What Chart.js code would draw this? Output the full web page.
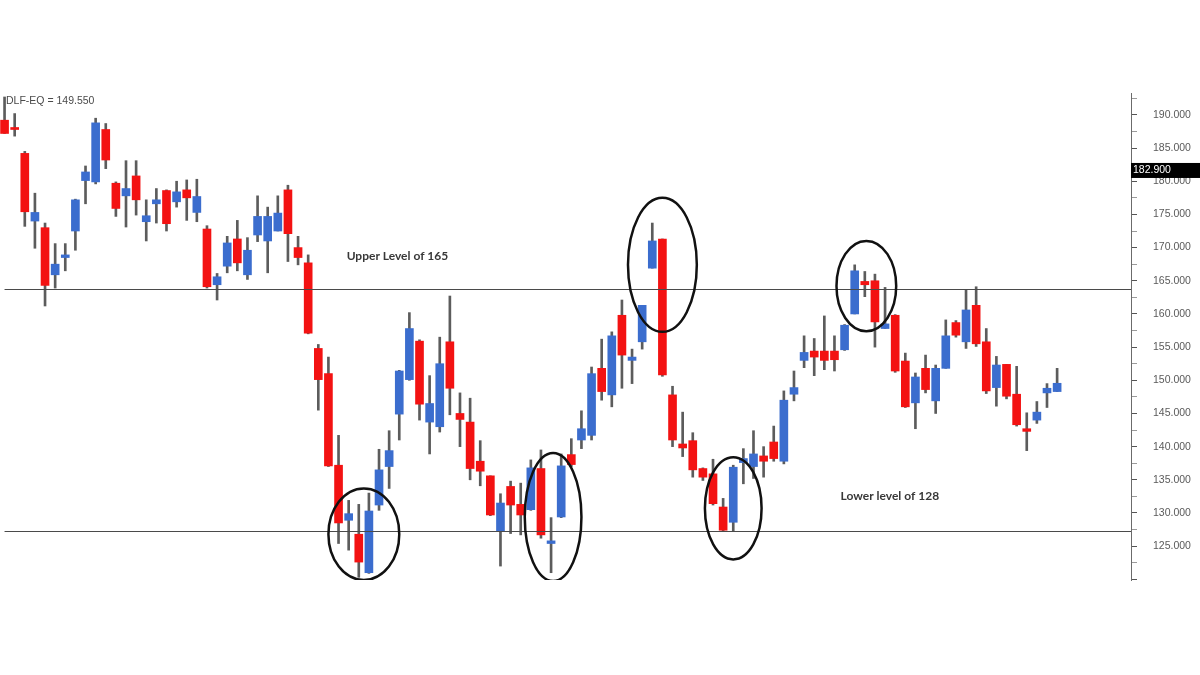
<!DOCTYPE html>
<html lang="en">
  <head>
    <meta charset="UTF-8" />
    <meta name="viewport" content="width=device-width, initial-scale=1.0" />
    <title>DLF-EQ Support and Resistance</title>
    <script src="https://cdn.jsdelivr.net/npm/chart.js"></script>
    <style>
      html, body { margin: 0; padding: 0; background: #ffffff; }
      #wrap { width: 1200px; height: 675px; position: relative; }
    </style>
  </head>
  <body>
    <div id="wrap">
      <canvas id="candles"></canvas>
    </div>

    <script>
      // Daily candles (one entry per candle, left to right)
      const openPrices = [
        189.2, 188.1, 184.2, 174.0, 173.0, 165.9, 168.5, 172.5, 180.1, 179.9,
        187.8, 179.7, 177.8, 180.8, 173.9, 176.6, 178.6, 176.9, 178.7, 175.3,
        172.8, 164.4, 167.2, 171.3, 165.9, 171.9, 171.0, 172.5, 178.7, 170.0,
        167.7, 154.8, 151.0, 137.2, 128.9, 126.8, 121.0, 131.2, 137.0, 144.9,
        150.1, 155.9, 143.7, 143.0, 155.8, 145.0, 143.7, 137.8, 135.6, 127.2,
        134.0, 131.3, 130.5, 136.7, 125.4, 129.4, 138.8, 141.0, 141.7, 151.8,
        147.8, 159.8, 153.0, 155.8, 166.9, 171.3, 147.8, 140.4, 140.9, 136.7,
        135.9, 130.9, 128.6, 137.6, 137.0, 138.6, 140.7, 137.8, 147.9, 153.0,
        154.4, 154.4, 154.4, 154.6, 160.0, 164.9, 165.0, 157.8, 159.8, 152.9,
        146.6, 151.8, 146.9, 151.8, 158.7, 155.8, 161.3, 155.8, 148.9, 152.4,
        147.9, 142.7, 144.0, 148.1, 148.3,
      ];
      const highPrices = [
        192.7, 190.2, 184.5, 178.2, 173.7, 170.6, 170.6, 177.3, 182.3, 189.5,
        188.7, 179.9, 183.1, 183.1, 177.2, 178.9, 178.7, 180.0, 180.2, 180.3,
        173.3, 166.1, 171.7, 174.1, 171.5, 177.8, 176.1, 177.8, 179.4, 171.7,
        168.9, 155.4, 153.5, 141.7, 131.9, 131.3, 133.0, 139.6, 142.4, 151.5,
        160.2, 156.1, 150.7, 156.5, 162.7, 148.1, 147.3, 140.9, 135.6, 132.9,
        134.8, 134.5, 138.0, 139.5, 129.3, 138.9, 141.2, 145.4, 152.0, 156.2,
        157.3, 162.1, 154.7, 161.3, 173.7, 171.3, 149.1, 145.2, 142.1, 136.8,
        138.1, 132.2, 137.2, 139.7, 142.4, 140.0, 143.1, 148.4, 151.4, 156.7,
        156.3, 159.7, 156.7, 158.4, 167.4, 166.4, 166.0, 164.0, 159.9, 154.1,
        151.1, 153.8, 152.3, 159.1, 159.0, 163.7, 164.1, 157.8, 153.6, 152.4,
        152.1, 145.1, 146.8, 149.5, 151.8,
      ];
      const lowPrices = [
        187.2, 186.8, 173.2, 169.9, 161.2, 163.9, 166.5, 169.6, 176.6, 179.6,
        181.9, 174.7, 173.1, 174.9, 171.0, 173.7, 172.5, 176.1, 174.1, 173.9,
        163.9, 162.1, 166.2, 166.5, 165.2, 170.9, 166.2, 172.5, 167.9, 167.4,
        157.0, 145.5, 137.0, 125.4, 124.4, 120.3, 120.9, 130.4, 133.7, 141.0,
        150.0, 144.0, 138.9, 142.2, 144.8, 140.0, 135.0, 134.1, 129.6, 122.0,
        126.9, 126.7, 130.4, 126.2, 121.0, 129.3, 137.0, 139.7, 141.0, 147.0,
        146.0, 148.8, 149.5, 154.7, 166.9, 150.6, 140.0, 138.5, 135.4, 134.9,
        131.2, 127.3, 127.2, 134.4, 135.2, 135.4, 137.8, 137.4, 146.9, 151.9,
        150.7, 151.6, 151.4, 154.5, 160.0, 162.6, 155.0, 157.8, 151.2, 145.9,
        142.7, 148.1, 145.0, 151.8, 156.5, 154.8, 155.1, 148.0, 146.1, 147.2,
        143.1, 139.4, 143.5, 145.9, 148.3,
      ];
      const closePrices = [
        187.2, 187.8, 175.4, 175.3, 164.3, 167.5, 168.9, 177.2, 181.4, 188.8,
        183.2, 175.9, 178.9, 177.2, 174.8, 177.2, 173.6, 178.4, 177.5, 177.7,
        164.1, 165.6, 170.7, 167.7, 169.6, 174.7, 174.7, 175.2, 172.1, 168.5,
        157.1, 150.1, 137.1, 128.5, 129.9, 122.6, 130.3, 136.5, 139.4, 151.4,
        157.8, 146.4, 146.5, 152.5, 148.8, 144.1, 136.7, 136.3, 129.7, 131.5,
        131.2, 129.7, 136.8, 126.7, 125.8, 137.1, 137.3, 142.7, 151.0, 148.3,
        156.7, 153.8, 153.5, 161.3, 171.0, 150.8, 141.0, 139.8, 136.5, 135.4,
        131.4, 127.4, 136.9, 138.2, 138.9, 137.8, 138.2, 147.0, 148.9, 154.2,
        153.5, 153.0, 153.1, 158.3, 166.5, 164.4, 158.8, 158.5, 151.4, 146.0,
        150.5, 148.6, 151.8, 156.7, 156.8, 160.6, 155.5, 148.4, 152.3, 147.6,
        143.3, 142.3, 145.2, 148.8, 149.55,
      ];

      // Support / resistance lines drawn on the chart and their notes
      const levelPrices = [163.8, 127.3];
      const levelNotes = ["Upper Level of 165", "Lower level of 128"];
      // where each note sits: [candle index, price]
      const notePlaces = [
        [33.8, 168.7],
        [82.6, 132.5],
      ];
      // circled areas: [centre candle, centre price, half width (candles), half height (price)]
      const circles = [
        [35.5, 126.8, 3.5, 6.9],
        [54.2, 129.4, 2.8, 9.65],
        [65.0, 167.4, 3.4, 10.1],
        [72.0, 130.7, 2.8, 7.7],
        [85.15, 164.2, 2.95, 6.8],
      ];
      // price box on the axis
      const markerPrice = 181.7;
      const markerText = "182.900";

      const UP = "#3b6dce";
      const DOWN = "#f31212";

      const bodies = openPrices.map((o, i) => ({ x: i, y: [o, closePrices[i]] }));
      const wicks = lowPrices.map((l, i) => ({ x: i, y: [l, highPrices[i]] }));
      const isUp = (i) => closePrices[i] >= openPrices[i];

      // Lines, circles and texts on top of the candles
      const overlayPlugin = {
        id: "overlay",
        afterDatasetsDraw(chart) {
          const { ctx, chartArea, scales } = chart;
          const x = scales.x;
          const y = scales.y;

          ctx.save();
          // horizontal levels
          ctx.strokeStyle = "#4a4a4a";
          ctx.lineWidth = 1.2;
          levelPrices.forEach((p) => {
            const py = Math.round(y.getPixelForValue(p)) + 0.5;
            ctx.beginPath();
            ctx.moveTo(x.getPixelForValue(0), py);
            ctx.lineTo(chartArea.right, py);
            ctx.stroke();
          });

          // notes
          ctx.fillStyle = "#383838";
          ctx.font = "bold 12px Lato, 'Liberation Sans', sans-serif";
          ctx.textAlign = "left";
          ctx.textBaseline = "middle";
          levelNotes.forEach((t, i) => {
            ctx.fillText(t, x.getPixelForValue(notePlaces[i][0]), y.getPixelForValue(notePlaces[i][1]));
          });

          // circles, clipped to the plot
          ctx.beginPath();
          ctx.rect(chartArea.left, chartArea.top, chartArea.right - chartArea.left, chartArea.bottom - chartArea.top);
          ctx.clip();
          ctx.strokeStyle = "#111111";
          ctx.lineWidth = 2.5;
          circles.forEach(([ci, cp, wi, hp]) => {
            const cx = x.getPixelForValue(ci);
            const cy = y.getPixelForValue(cp);
            const rx = Math.abs(x.getPixelForValue(ci + wi) - cx);
            const ry = Math.abs(y.getPixelForValue(cp + hp) - cy);
            ctx.beginPath();
            ctx.ellipse(cx, cy, rx, ry, 0, 0, Math.PI * 2);
            ctx.stroke();
          });
          ctx.restore();
        },
        afterDraw(chart) {
          const { ctx, chartArea, scales } = chart;
          const y = scales.y;
          ctx.save();
          // symbol and last price, top left
          ctx.fillStyle = "#4a4a4a";
          ctx.font = "10.5px 'Liberation Sans', Arial, sans-serif";
          ctx.textAlign = "left";
          ctx.textBaseline = "middle";
          const last = closePrices[closePrices.length - 1];
          ctx.fillText("DLF-EQ = " + last.toFixed(3), chartArea.left + 6, chartArea.top + 8);

          // black price box on the axis
          const my = y.getPixelForValue(markerPrice);
          ctx.fillStyle = "#000000";
          ctx.fillRect(chartArea.right, my - 7, chart.width - chartArea.right, 15);
          ctx.fillStyle = "#ffffff";
          ctx.fillText(markerText, chartArea.right + 2, my + 0.5);
          ctx.restore();
        },
      };

      const ctx = document.getElementById("candles").getContext("2d");

      new Chart(ctx, {
        type: "bar",
        data: {
          datasets: [
            {
              label: "body",
              data: bodies,
              backgroundColor: (c) => (isUp(c.dataIndex) ? UP : DOWN),
              borderWidth: 0,
              barThickness: 8,
              grouped: false,
              order: 1,
            },
            {
              label: "wick",
              data: wicks,
              backgroundColor: "#5c5c5c",
              borderWidth: 0,
              barThickness: 2,
              grouped: false,
              order: 2,
            },
          ],
        },
        options: {
          responsive: true,
          maintainAspectRatio: false,
          animation: false,
          layout: { padding: { top: 93, bottom: 95, left: 0, right: 0 } },
          plugins: {
            legend: { display: false },
            tooltip: { enabled: false },
          },
          scales: {
            x: {
              type: "linear",
              min: -0.45,
              max: 111.3,
              offset: false,
              display: false,
            },
            y: {
              position: "right",
              min: 119.9,
              max: 193.3,
              afterBuildTicks: (scale) => {
                const t = [];
                for (let v = 120; v <= 192.5; v += 2.5) t.push({ value: v });
                scale.ticks = t;
              },
              afterFit: (scale) => {
                scale.width = 69;
              },
              border: { display: true, color: "#6b6b6b", width: 1 },
              grid: {
                drawOnChartArea: false,
                tickLength: 6,
                tickWidth: 1,
                tickColor: (c) => (c.tick && c.tick.value % 5 === 0 ? "#555555" : "#9a9a9a"),
              },
              ticks: {
                autoSkip: false,
                padding: 16,
                color: "#5a5a5a",
                font: { family: "'Liberation Sans', Arial, sans-serif", size: 10.5 },
                callback: (v) => (v % 5 === 0 && v >= 125 ? v.toFixed(3) : ""),
              },
            },
          },
        },
        plugins: [overlayPlugin],
      });
    </script>
  </body>
</html>
